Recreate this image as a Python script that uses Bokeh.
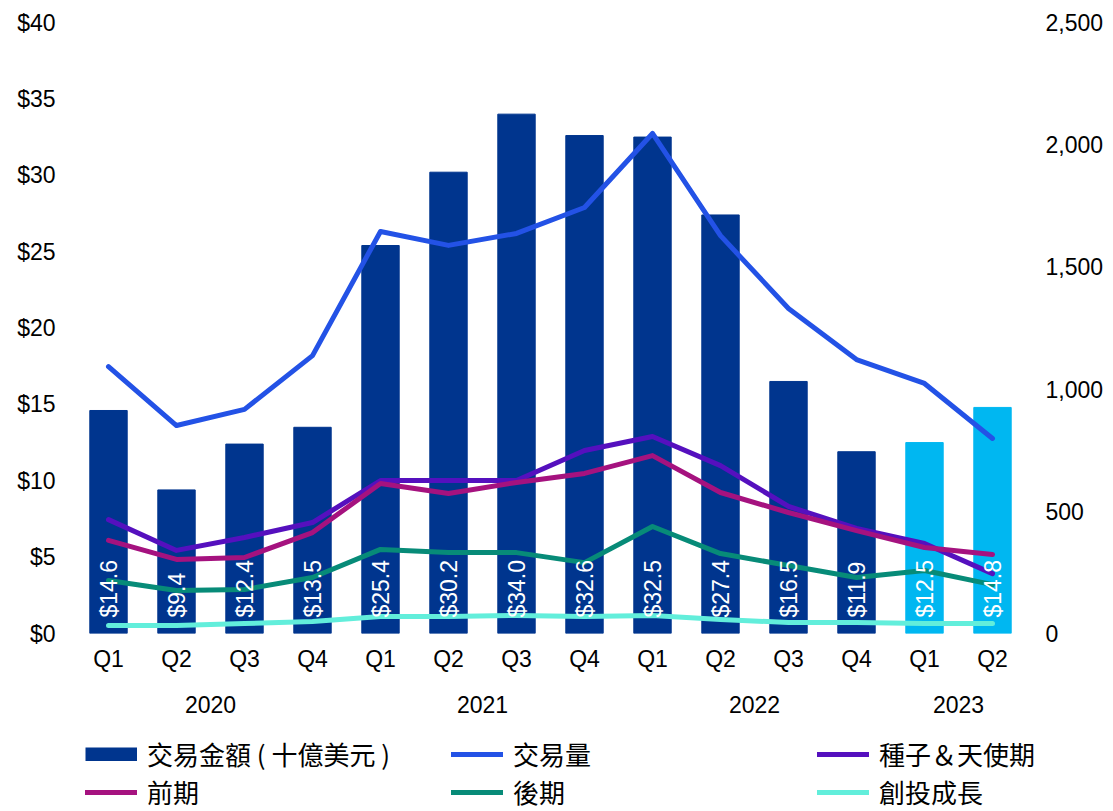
import numpy as np
from bokeh.plotting import figure
from bokeh.models import (ColumnDataSource, LinearAxis, Range1d, FixedTicker,
                          NumeralTickFormatter, Legend, LegendItem)
from bokeh.core.properties import value
from bokeh.embed import file_html
from bokeh.resources import INLINE

# ---------------- data ----------------
years = ["2020"] * 4 + ["2021"] * 4 + ["2022"] * 4 + ["2023"] * 2
quarters = ["Q1", "Q2", "Q3", "Q4"] * 3 + ["Q1", "Q2"]
deal_value = [14.6, 9.4, 12.4, 13.5, 25.4, 30.2, 34.0, 32.6, 32.5, 27.4, 16.5, 11.9, 12.5, 14.8]
deal_count = [1092, 851, 917, 1137, 1645, 1588, 1637, 1743, 2046, 1628, 1330, 1121, 1023, 798]
seed_angel = [466, 340, 393, 454, 626, 626, 626, 749, 806, 687, 520, 430, 368, 245]
early_stage = [381, 303, 311, 413, 614, 573, 618, 655, 728, 577, 495, 421, 352, 323]
late_stage = [217, 176, 180, 229, 344, 331, 331, 290, 438, 327, 278, 229, 258, 200]
venture_growth = [33, 33, 41, 49, 70, 70, 74, 70, 74, 57, 45, 45, 41, 41]

left_ticks = [0, 5, 10, 15, 20, 25, 30, 35, 40]
right_ticks = [0, 500, 1000, 1500, 2000, 2500]

series_names = ["交易金額 ( 十億美元 )", "交易量", "種子＆天使期", "前期", "後期", "創投成長"]

# ---------------- styles ----------------
DARK = "#00358E"
LIGHT = "#00B7F1"
LINE_COLORS = ["#2352E6", "#5510BE", "#A5127F", "#078B78", "#62EEDB"]
LATIN = "Liberation Sans"
CJK = "Noto Sans CJK TC"

x = list(range(len(quarters)))
bar_colors = [LIGHT if yv == "2023" else DARK for yv in years]
labels = [f"${v:.1f}" for v in deal_value]

src = ColumnDataSource(dict(x=x, v=deal_value, c=bar_colors, lab=labels,
                            cnt=deal_count, seed=seed_angel, early=early_stage,
                            late=late_stage, vg=venture_growth))

p = figure(width=1113, height=729, output_backend="svg", toolbar_location=None,
           x_range=Range1d(-0.5, len(x) - 0.5), y_range=Range1d(0, 40),
           min_border_left=74, min_border_right=87, min_border_top=22,
           min_border_bottom=96)
p.outline_line_color = None
p.xgrid.visible = False
p.ygrid.visible = False
p.extra_y_ranges = {"cnt": Range1d(0, 2500)}

bars = p.vbar(x="x", top="v", width=0.55, color="c", source=src)

line_fields = ["cnt", "seed", "early", "late", "vg"]
for f, col in zip(line_fields, LINE_COLORS):
    p.line("x", f, source=src, y_range_name="cnt", line_width=5, color=col,
           line_cap="round", line_join="round")

p.text(x="x", y=0, text="lab", source=src, angle=np.pi / 2, text_align="left",
       text_baseline="middle", y_offset=-16, text_color="white",
       text_font=value(LATIN), text_font_size="23px")

def style_axis(ax):
    ax.axis_line_color = None
    ax.major_tick_line_color = None
    ax.minor_tick_line_color = None
    ax.major_tick_out = 0
    ax.major_tick_in = 0
    ax.minor_tick_out = 0
    ax.major_label_text_font = LATIN
    ax.major_label_text_font_size = "23px"
    ax.major_label_text_color = "#000000"

# left axis
ya = p.yaxis[0]
ya.ticker = FixedTicker(ticks=left_ticks)
ya.formatter = NumeralTickFormatter(format="$0")
style_axis(ya)
ya.major_label_standoff = 19

# right axis
ra = LinearAxis(y_range_name="cnt", ticker=FixedTicker(ticks=right_ticks),
                formatter=NumeralTickFormatter(format="0,0"))
style_axis(ra)
ra.major_label_standoff = 19
p.add_layout(ra, "right")

# quarter axis
xa = p.xaxis[0]
xa.ticker = FixedTicker(ticks=x)
xa.major_label_overrides = {i: q for i, q in zip(x, quarters)}
style_axis(xa)
xa.major_label_standoff = 12

# year axis
uniq_years = sorted(set(years))
year_centers = [float(np.mean([i for i, yv in zip(x, years) if yv == u])) for u in uniq_years]
ya2 = LinearAxis(ticker=FixedTicker(ticks=year_centers))
ya2.major_label_overrides = {c: u for c, u in zip(year_centers, uniq_years)}
style_axis(ya2)
ya2.major_label_standoff = 21
p.add_layout(ya2, "below")

# ---------------- legend strip ----------------
pl = figure(width=1113, height=82, output_backend="svg", toolbar_location=None,
            x_range=Range1d(0, 1), y_range=Range1d(0, 1),
            min_border_left=0, min_border_right=0, min_border_top=0,
            min_border_bottom=0)
pl.axis.visible = False
pl.xgrid.visible = False
pl.ygrid.visible = False
pl.outline_line_color = None

# legend proxies (one undrawn NaN point each, so the legend can draw their glyphs)
proxies = [pl.line(x=[np.nan], y=[np.nan], line_width=14, color=DARK, line_cap="butt")]
for col in LINE_COLORS:
    proxies.append(pl.line(x=[np.nan], y=[np.nan], line_width=5, color=col, line_cap="round"))

items = [LegendItem(label=n, renderers=[r]) for n, r in zip(series_names, proxies)]
legend = Legend(items=items, orientation="horizontal", ncols=3,
                location=(85, 1), glyph_width=52, glyph_height=14,
                label_standoff=10, label_width=303, label_height=26,
                spacing=1, padding=0, margin=0,
                label_text_font=CJK, label_text_font_size="26px",
                label_text_color="#000000",
                border_line_color=None, background_fill_alpha=0)
pl.add_layout(legend, "center")

open("out.html", "w").write(file_html([p, pl], INLINE))
